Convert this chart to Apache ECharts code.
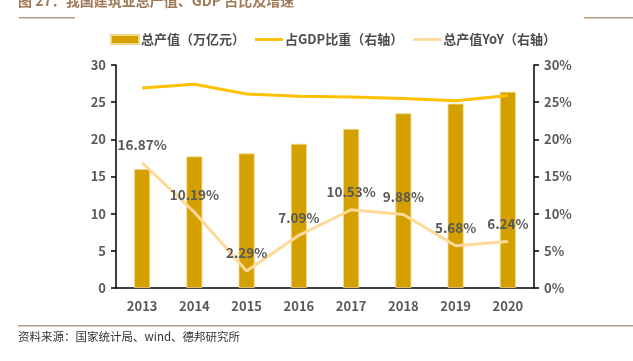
<!DOCTYPE html>
<html>
<head>
<meta charset="utf-8">
<script src="https://cdn.jsdelivr.net/npm/echarts@6/dist/echarts.min.js"></script>
<style>html,body{margin:0;padding:0;background:#fff;}#c{width:633px;height:361px;}</style>
</head>
<body>
<div id="c"></div>
<script>
const categories = ['2013','2014','2015','2016','2017','2018','2019','2020'];
const outputValue = [16.0, 17.7, 18.1, 19.4, 21.4, 23.5, 24.8, 26.4];
const gdpShare = [26.9, 27.4, 26.1, 25.8, 25.7, 25.5, 25.2, 25.9];
const outputYoY = [16.87, 10.19, 2.29, 7.09, 10.53, 9.88, 5.68, 6.24];
const leftTicks = [0, 5, 10, 15, 20, 25, 30];
const rightTicks = [0, 5, 10, 15, 20, 25, 30];

const chart = echarts.init(document.getElementById('c'));
const fontFam = '"Noto Sans CJK SC", "Noto Sans", sans-serif';
const labelColor = '#595959';
chart.setOption({
  animation: false,
  backgroundColor: '#fff',
  textStyle: { fontFamily: fontFam },
  grid: { left: 116, right: 99, top: 65, bottom: 73, containLabel: false },
  legend: {
    top: 33, left: 110, padding: 0,
    itemGap: 10,
    itemWidth: 28, itemHeight: 9,
    textStyle: { color: '#4d4d4d', fontWeight: 'bold', fontSize: 13, fontFamily: fontFam, padding: [0, 0, 0, -3] },
    data: [
      { name: '总产值（万亿元）', icon: 'rect' },
      { name: '占GDP比重（右轴）', icon: 'path://M0,3 L30,3 L30,6 L0,6 Z' },
      { name: '总产值YoY（右轴）', icon: 'path://M0,3 L30,3 L30,6 L0,6 Z' }
    ]
  },
  graphic: [
    { type: 'text', left: 18, top: -6, style: { text: '图 27：我国建筑业总产值、GDP 占比及增速', fill: '#a07a58', font: 'bold 14px "Noto Sans CJK SC", sans-serif' } },
    { type: 'rect', shape: { x: 19, y: 17, width: 56, height: 1.5 }, style: { fill: '#b89a80' } },
    { type: 'rect', shape: { x: 584, y: 17, width: 49, height: 1.5 }, style: { fill: '#b89a80' } },
    { type: 'rect', shape: { x: 18, y: 325, width: 615, height: 1.5 }, style: { fill: '#b89a80' } },
    { type: 'text', left: 18, top: 331, style: { text: '资料来源：国家统计局、wind、德邦研究所', fill: '#333', font: '11.5px "Noto Sans CJK SC", sans-serif' } }
  ],
  xAxis: {
    type: 'category',
    data: categories,
    axisLine: { lineStyle: { color: '#000', width: 1.5 } },
    axisTick: { show: false },
    axisLabel: { color: labelColor, fontWeight: 'bold', fontSize: 13, margin: 12, fontFamily: fontFam }
  },
  yAxis: [
    {
      type: 'value', min: leftTicks[0], max: leftTicks[leftTicks.length - 1], interval: 5,
      axisLine: { show: true, lineStyle: { color: '#000', width: 1.5 } },
      axisTick: { show: true, length: 5, lineStyle: { color: '#000', width: 1.5 } },
      splitLine: { show: false },
      axisLabel: { color: labelColor, fontWeight: 'bold', fontSize: 13, margin: 10, fontFamily: fontFam }
    },
    {
      type: 'value', min: rightTicks[0], max: rightTicks[rightTicks.length - 1], interval: 5,
      axisLine: { show: true, lineStyle: { color: '#000', width: 1.5 } },
      axisTick: { show: true, length: 5, lineStyle: { color: '#000', width: 1.5 } },
      splitLine: { show: false },
      axisLabel: { color: labelColor, fontWeight: 'bold', fontSize: 13, margin: 10, fontFamily: fontFam, formatter: '{value}%' }
    }
  ],
  series: [
    {
      name: '总产值（万亿元）', type: 'bar', data: outputValue, barWidth: 16,
      itemStyle: { color: '#D4A000', borderColor: '#F2D98A', borderWidth: 0.8 }
    },
    {
      name: '占GDP比重（右轴）', type: 'line', yAxisIndex: 1, data: gdpShare,
      symbol: 'none', lineStyle: { color: '#FFC000', width: 3 }, itemStyle: { color: '#FFC000' }
    },
    {
      name: '总产值YoY（右轴）', type: 'line', yAxisIndex: 1, data: outputYoY,
      symbol: 'circle', symbolSize: 0.1, showSymbol: true,
      lineStyle: { color: '#FFD999', width: 3 }, itemStyle: { color: '#FFD999' },
      label: {
        show: true, position: 'top', distance: 11,
        formatter: p => Number(p.value).toFixed(2) + '%',
        color: labelColor, fontWeight: 'bold', fontSize: 13.5, fontFamily: fontFam
      },
      labelLayout: { hideOverlap: false }
    }
  ]
});
</script>
</body>
</html>
